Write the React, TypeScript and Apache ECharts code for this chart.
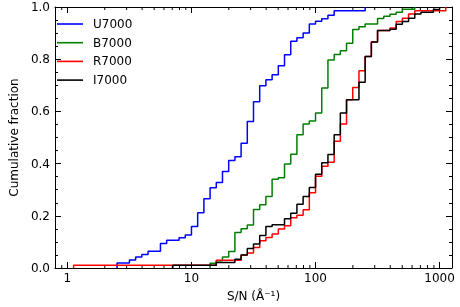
import React, { useEffect, useRef } from "react";
import * as echarts from "echarts";

// S/N bin edges (Å^-1) and cumulative fractions
const SN_U = [2.512, 3.162, 3.548, 3.981, 4.467, 5.623, 6.31, 7.943, 8.913, 10.0, 11.22, 12.59, 14.13, 15.85, 17.78, 19.95, 22.39, 25.12, 28.18, 31.62, 35.48, 39.81, 44.67, 50.12, 56.23, 63.1, 70.79, 79.43, 89.13, 100.0, 112.2, 125.9, 141.3, 251.2];
const CUM_U = [0.019, 0.031, 0.042, 0.052, 0.064, 0.094, 0.106, 0.116, 0.126, 0.159, 0.212, 0.265, 0.307, 0.328, 0.37, 0.412, 0.426, 0.478, 0.561, 0.637, 0.698, 0.721, 0.74, 0.775, 0.817, 0.869, 0.882, 0.9, 0.935, 0.945, 0.955, 0.968, 0.986, 1.0];

const SN_B = [14.13, 15.85, 17.78, 19.95, 22.39, 25.12, 28.18, 31.62, 35.48, 39.81, 44.67, 50.12, 56.23, 63.1, 70.79, 79.43, 89.13, 100.0, 112.2, 125.9, 141.3, 158.5, 177.8, 199.5, 223.9, 251.2, 316.2, 354.8, 398.1, 446.7, 501.2, 631.0];
const CUM_B = [0.018, 0.028, 0.042, 0.063, 0.136, 0.15, 0.165, 0.224, 0.242, 0.274, 0.34, 0.346, 0.398, 0.436, 0.511, 0.552, 0.563, 0.594, 0.69, 0.797, 0.818, 0.832, 0.861, 0.914, 0.924, 0.935, 0.956, 0.965, 0.972, 0.98, 0.991, 1.0];

const SN_R = [1.122, 15.85, 25.12, 28.18, 31.62, 35.48, 39.81, 44.67, 50.12, 56.23, 63.1, 70.79, 79.43, 89.13, 100.0, 112.2, 125.9, 141.3, 158.5, 177.8, 199.5, 223.9, 251.2, 281.8, 316.2, 398.1, 446.7, 501.2, 562.3, 631.0, 1122];
const CUM_R = [0.011, 0.03, 0.05, 0.057, 0.079, 0.104, 0.117, 0.13, 0.149, 0.162, 0.193, 0.202, 0.223, 0.288, 0.352, 0.39, 0.405, 0.486, 0.552, 0.645, 0.692, 0.756, 0.81, 0.866, 0.91, 0.92, 0.944, 0.957, 0.973, 0.986, 1.0];

const SN_I = [7.079, 15.85, 22.39, 25.12, 28.18, 31.62, 35.48, 39.81, 44.67, 56.23, 63.1, 70.79, 79.43, 89.13, 100.0, 112.2, 125.9, 141.3, 158.5, 177.8, 223.9, 251.2, 281.8, 316.2, 398.1, 446.7, 501.2, 562.3, 631.0, 707.9, 891.3, 1000];
const CUM_I = [0.011, 0.021, 0.034, 0.05, 0.075, 0.092, 0.125, 0.159, 0.166, 0.189, 0.21, 0.244, 0.274, 0.308, 0.359, 0.403, 0.435, 0.511, 0.594, 0.645, 0.712, 0.81, 0.866, 0.91, 0.915, 0.934, 0.944, 0.957, 0.973, 0.98, 0.99, 1.0];

const SERIES_NAMES = ["U7000", "B7000", "R7000", "I7000"];
const SERIES_COLORS = ["#0000ff", "#008000", "#ff0000", "#000000"];
const X_MIN = 0.794;
const X_MAX = 1259;
const FONT = "DejaVu Sans";

function stepData(xs: number[], ys: number[]) {
  const d: number[][] = [[xs[0], 0]];
  xs.forEach((x, i) => d.push([x, ys[i]]));
  return d;
}

export default function App() {
  const ref = useRef<HTMLDivElement>(null);
  useEffect(() => {
    const chart = echarts.init(ref.current!, null, { renderer: "svg" });
    const sets = [
      [SN_U, CUM_U],
      [SN_B, CUM_B],
      [SN_R, CUM_R],
      [SN_I, CUM_I],
    ];
    const axisLine = { show: true, onZero: false, lineStyle: { color: "#000", width: 1 } };
    const tick = { show: true, inside: true, length: 6, lineStyle: { color: "#000", width: 1 } };
    const labelStyle = { color: "#000", fontSize: 12, fontFamily: FONT };
    chart.setOption({
      animation: false,
      grid: { left: 46, right: 8, top: 7, bottom: 38, containLabel: false },
      legend: {
        orient: "vertical",
        left: 57,
        top: 17,
        padding: 0,
        icon: "rect",
        itemWidth: 26,
        itemHeight: 1.6,
        itemGap: 4.7,
        textStyle: { ...labelStyle, padding: [0, 0, 0, 5], lineHeight: 14 },
        data: SERIES_NAMES,
      },
      xAxis: [
        {
          type: "log",
          logBase: 10,
          min: X_MIN,
          max: X_MAX,
          position: "bottom",
          axisLine,
          axisTick: tick,
          splitLine: { show: false },
          axisLabel: {
            ...labelStyle,
            margin: 4,
            formatter: (v: number) => {
              const l = Math.log10(v);
              return Math.abs(l - Math.round(l)) < 1e-6 ? String(Math.round(v)) : "";
            },
          },
          name: "S/N (Å⁻¹)",
          nameLocation: "middle",
          nameGap: 22,
          nameTextStyle: labelStyle,
        },
        {
          type: "log",
          logBase: 10,
          min: X_MIN,
          max: X_MAX,
          position: "top",
          axisLine,
          axisTick: tick,
          splitLine: { show: false },
          axisLabel: { show: false },
        },
      ],
      yAxis: [
        {
          type: "value",
          min: 0,
          max: 1,
          interval: 0.2,
          position: "left",
          axisLine,
          axisTick: tick,
          minorTick: { show: true, splitNumber: 4, length: 3, lineStyle: { color: "#000", width: 1 } },
          splitLine: { show: false },
          minorSplitLine: { show: false },
          axisLabel: { ...labelStyle, margin: 5, formatter: (v: number) => v.toFixed(1) },
          name: "Cumulative fraction",
          nameLocation: "middle",
          nameGap: 30,
          nameTextStyle: labelStyle,
        },
        {
          type: "value",
          min: 0,
          max: 1,
          interval: 0.2,
          position: "right",
          axisLine,
          axisTick: tick,
          minorTick: { show: true, splitNumber: 4, length: 3, lineStyle: { color: "#000", width: 1 } },
          splitLine: { show: false },
          minorSplitLine: { show: false },
          axisLabel: { show: false },
        },
      ],
      series: sets.map(([xs, ys], i) => ({
        name: SERIES_NAMES[i],
        type: "line",
        xAxisIndex: 0,
        yAxisIndex: 0,
        step: "end",
        symbol: "none",
        showSymbol: false,
        color: SERIES_COLORS[i],
        itemStyle: { color: SERIES_COLORS[i] },
        lineStyle: { color: SERIES_COLORS[i], width: 1.5 },
        data: stepData(xs as number[], ys as number[]),
        z: 2 + i,
      })),
    });

    // minor log ticks (2..9 per decade) on bottom and top spines
    const yb = chart.convertToPixel({ yAxisIndex: 0 }, 0) as number;
    const yt = chart.convertToPixel({ yAxisIndex: 0 }, 1) as number;
    const graphics: any[] = [];
    [0.1, 1, 10, 100, 1000].forEach((dec) => {
      for (let d = 2; d <= 9; d++) {
        const m = d * dec;
        if (m <= 0.81 || m >= 1250) continue;
        const x = chart.convertToPixel({ xAxisIndex: 0 }, m) as number;
        graphics.push({ type: "line", silent: true, shape: { x1: x, y1: yb, x2: x, y2: yb - 3 }, style: { stroke: "#000", lineWidth: 1 } });
        graphics.push({ type: "line", silent: true, shape: { x1: x, y1: yt, x2: x, y2: yt + 3 }, style: { stroke: "#000", lineWidth: 1 } });
      }
    });
    chart.setOption({ graphic: graphics });
    return () => chart.dispose();
  }, []);
  return <div ref={ref} style={{ position: "fixed", left: 0, top: 0, width: 460, height: 307 }} />;
}
